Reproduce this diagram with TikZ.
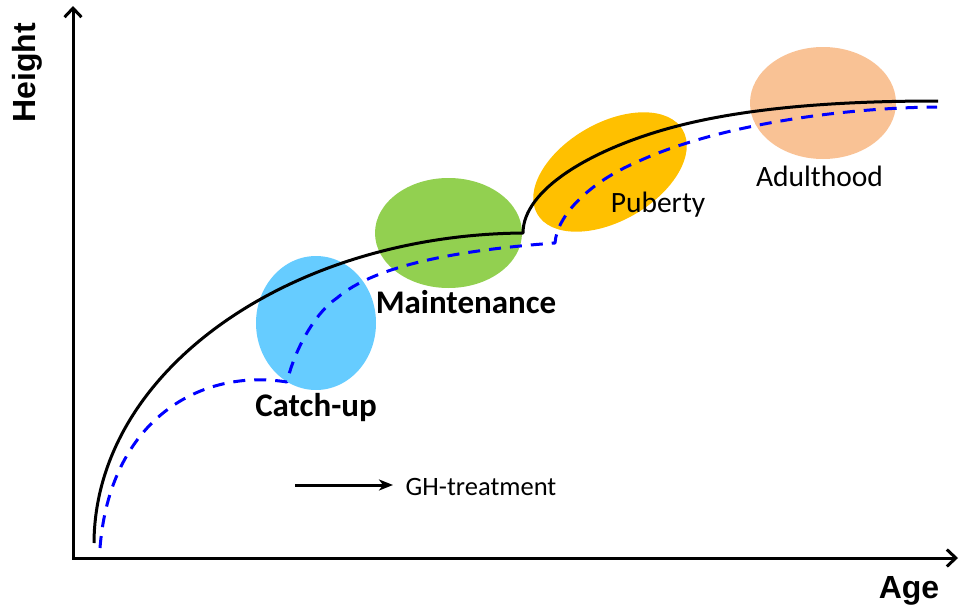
\documentclass[tikz,border=0pt]{standalone}
\usepackage{fontspec}
\setmainfont{Carlito}
\newfontfamily\arialf{Liberation Sans}
\usetikzlibrary{arrows.meta,shapes.geometric}
\definecolor{cblue}{HTML}{66CCFF}
\definecolor{cgreen}{HTML}{92D050}
\definecolor{cyellow}{HTML}{FFC000}
\definecolor{cpeach}{HTML}{F9C295}
\definecolor{cline}{HTML}{0000FF}
\begin{document}
\begin{tikzpicture}[x=1pt,y=-1pt,
  blob/.style={ellipse, inner sep=0pt, draw=none},
  curve/.style={line width=3pt, line join=round},
  lbl/.style={anchor=base, inner sep=0pt},
  axis/.style={line width=3pt, {Straight Barb[length=9pt,width=17pt]}-{Straight Barb[length=9pt,width=17pt]}}]
\useasboundingbox (0,0) rectangle (961,605);
% phase blobs
\node[blob, fill=cblue, minimum width=120pt, minimum height=134pt] (catch) at (316,323) {};
\node[blob, fill=cgreen, minimum width=147pt, minimum height=110pt] (maint) at (448.5,233) {};
\node[blob, fill=cyellow, minimum width=168pt, minimum height=98pt, rotate=30] (pub) at (610,172) {};
\node[blob, fill=cpeach, minimum width=146pt, minimum height=112pt] (adult) at (823,103) {};
% axes
\coordinate (ytop) at (73,6);
\coordinate (orig) at (73,558);
\coordinate (xend) at (958,558);
\draw[axis] (ytop) -- (orig) -- (xend);
% untreated (dashed)
\draw[curve, cline, dash pattern=on 12pt off 9pt]
  (100,548) .. controls (110,420) and (200,368) .. (287,382)
  .. controls (295,348) and (316,312) .. (337,298)
  .. controls (375,265) and (460,250) .. (555,243)
  .. controls (557,215) and (590,182) .. (637,162)
  .. controls (710,128) and (830,108) .. (937,107);
% treated (solid)
\draw[curve, black]
  (94,543) .. controls (95,370) and (290,235) .. (523,233)
  .. controls (523,190) and (590,150) .. (670,128)
  .. controls (750,106) and (850,101) .. (938,101);
% labels
\node[lbl, font=\arialf\bfseries\fontsize{32}{36}\selectfont, rotate=90] (hlab) at (35,73) {Height};
\node[lbl, font=\arialf\bfseries\fontsize{32}{36}\selectfont] (alab) at (909,598) {Age};
\node[lbl, font=\bfseries\fontsize{33}{38}\selectfont] (mlab) at (466,313) {Maintenance};
\node[lbl, font=\bfseries\fontsize{33}{38}\selectfont] (clab) at (316,416) {Catch-up};
\node[lbl, font=\fontsize{29.5}{34}\selectfont] (plab) at (658,212) {Puberty};
\node[lbl, font=\fontsize{29.5}{34}\selectfont] (adlab) at (819.5,186) {Adulthood};
% legend
\coordinate (la) at (295,485);
\coordinate (lb) at (393,485);
\draw[line width=3pt, -{Stealth[length=14pt,width=11pt,inset=4pt]}] (la) -- (lb);
\node[lbl, font=\fontsize{26.5}{30}\selectfont] (glab) at (481,495) {GH-treatment};
\end{tikzpicture}
\end{document}
